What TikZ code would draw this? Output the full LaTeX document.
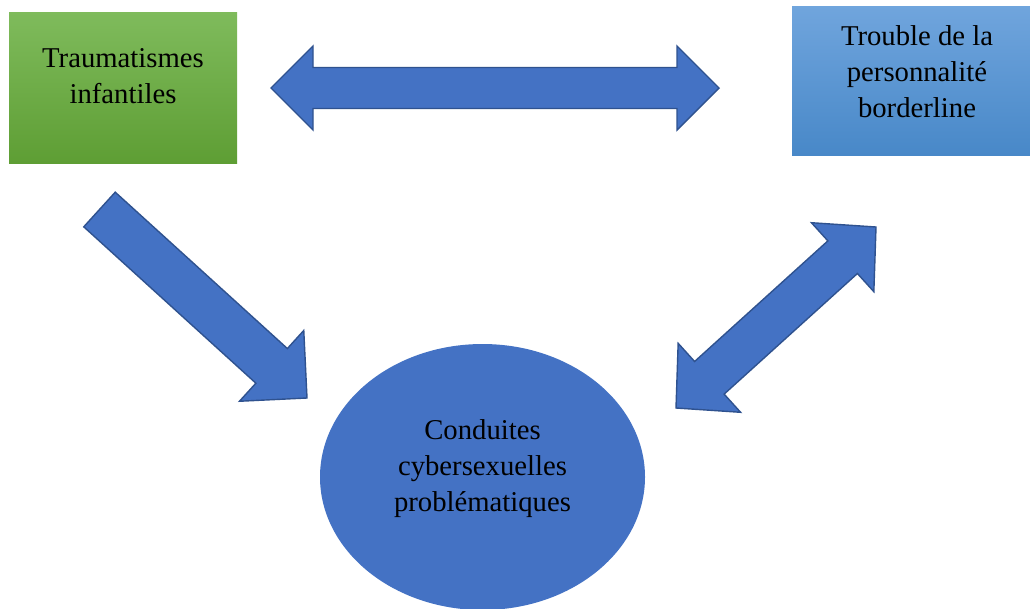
\documentclass[tikz,border=0pt]{standalone}
\usepackage{fontspec}
\setmainfont{Liberation Serif}
\usetikzlibrary{calc,shapes.geometric}

\definecolor{greenTop}{RGB}{127,187,92}
\definecolor{greenBot}{RGB}{94,158,52}
\definecolor{blueTop}{RGB}{112,165,221}
\definecolor{blueBot}{RGB}{72,136,200}
\definecolor{accent}{RGB}{68,114,196}
\definecolor{accentLine}{RGB}{47,82,143}

\tikzset{
  boxlabel/.style={align=center, anchor=base, inner sep=0pt,
    font=\fontsize{28.7}{36}\selectfont, text=black},
  blockarrow/.style={fill=accent, draw=accentLine, line width=1.4pt, line join=miter},
}

% single block arrow from #1 (tail centre) to #2 (tip)
% #3 half shaft width, #4 half head width, #5 head length
\newcommand\singleblock[5]{%
  \path ($(#2)!#5!(#1)$) coordinate (hbB);
  \filldraw[blockarrow]
    ($(#1)!#3!90:(#2)$) -- ($(hbB)!#3!90:(#2)$) -- ($(hbB)!#4!90:(#2)$) -- (#2)
    -- ($(hbB)!#4!-90:(#2)$) -- ($(hbB)!#3!-90:(#2)$) -- ($(#1)!#3!-90:(#2)$) -- cycle;
}
% double block arrow with tips #1 and #2
\newcommand\doubleblock[5]{%
  \path ($(#2)!#5!(#1)$) coordinate (hbB)
        ($(#1)!#5!(#2)$) coordinate (hbA);
  \filldraw[blockarrow]
    (#1) -- ($(hbA)!#4!-90:(#2)$) -- ($(hbA)!#3!-90:(#2)$)
    -- ($(hbB)!#3!90:(#1)$) -- ($(hbB)!#4!90:(#1)$) -- (#2)
    -- ($(hbB)!#4!-90:(#1)$) -- ($(hbB)!#3!-90:(#1)$)
    -- ($(hbA)!#3!90:(#2)$) -- ($(hbA)!#4!90:(#2)$) -- cycle;
}

\begin{document}
\begin{tikzpicture}[x=1pt,y=-1pt]
  \useasboundingbox (0,0) rectangle (1030,608);
  \fill[white] (0,0) rectangle (1030,608);

  % boxes (label anchors sit on the last line's baseline)
  \node[minimum width=228pt, minimum height=151pt, inner sep=0pt,
        top color=greenTop, bottom color=greenBot] (trauma) at (123,87.5) {};
  \node[boxlabel] (traumaText) at (123,103) {Traumatismes\\infantiles};

  \node[minimum width=250pt, minimum height=149pt, inner sep=0pt,
        top color=blueTop, bottom color=blueBot] (tpb) at (917,80.5) {};
  \node[boxlabel] (tpbText) at (917,117) {Trouble de la\\personnalité\\borderline};

  \node[ellipse, fill=accent, minimum width=325pt, minimum height=266pt,
        inner sep=0pt] (ccp) at (482.5,477) {};
  \node[boxlabel] (ccpText) at (482.5,511) {Conduites\\cybersexuelles\\problématiques};

  % connectors
  \coordinate (hL) at (271,88);
  \coordinate (hR) at (719,88);
  \doubleblock{hL}{hR}{20.5pt}{42pt}{42pt}

  \coordinate (dTail) at (99.5,209.5);
  \coordinate (dTip) at (307,398);
  \singleblock{dTail}{dTip}{23.4pt}{47.8pt}{47.8pt}

  \coordinate (rLow) at (676,408);
  \coordinate (rUp) at (876,227);
  \doubleblock{rLow}{rUp}{22pt}{46.5pt}{45pt}
\end{tikzpicture}
\end{document}
